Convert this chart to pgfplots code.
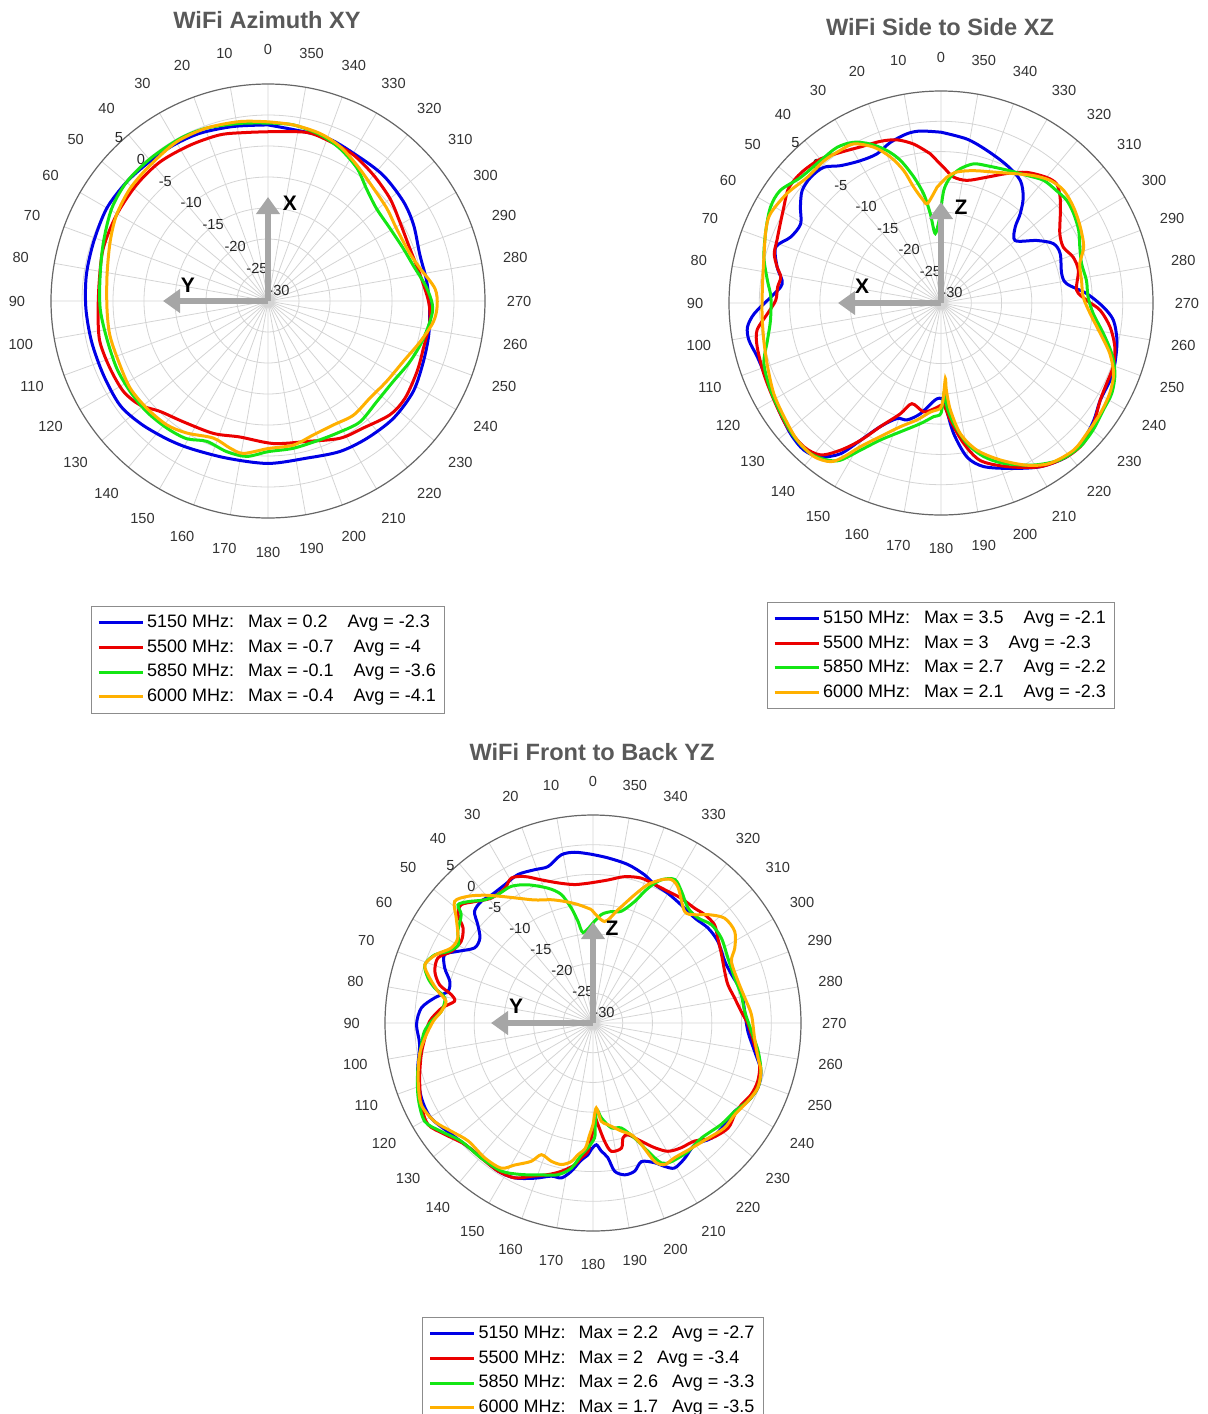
\documentclass[border=0pt]{standalone}
\usepackage{fontspec}
\setmainfont{Liberation Sans}
\usepackage{pgfplots}
\pgfplotsset{compat=1.18}
\usepackage{pgfplotstable}
\usepgfplotslibrary{polar}
\usetikzlibrary{arrows.meta}

\definecolor{c1}{RGB}{0,0,230}
\definecolor{c2}{RGB}{235,0,0}
\definecolor{c3}{RGB}{20,230,20}
\definecolor{c4}{RGB}{255,176,0}

% ---------------- Plot 1: Azimuth XY ----------------
\pgfplotstableread[row sep=\\]{a d\\
0 -1.6\\ 11.2 -1.3\\ 22.1 -0.8\\ 31.2 -0.6\\ 40.3 -0.5\\ 49.8 -0.2\\ 60.1 0.0\\ 71.2 -0.3\\ 81.8 -0.4\\ 92.3 -0.6\\ 103 -0.8\\ 114.2 -0.9\\ 125.1 -0.8\\ 134.1 -1.5\\ 143.6 -2.4\\ 152.1 -3.1\\ 165.3 -3.8\\ 180 -3.8\\ 193.8 -3.9\\ 205.5 -3.1\\ 215.7 -2.7\\ 226.9 -2.3\\ 238.1 -2.4\\ 248.7 -3.1\\ 258 -3.5\\ 267.4 -3.9\\ 277 -4.2\\ 286.8 -4.4\\ 297.6 -3.5\\ 306.3 -2.9\\ 317.5 -2.5\\ 328.7 -2.5\\ 341.4 -2.0\\ 360 -1.6\\}\aB
\pgfplotstableread[row sep=\\]{a d\\
0 -2.7\\ 7.2 -2.6\\ 16.1 -2.1\\ 26.6 -1.9\\ 37.8 -1.6\\ 48.5 -1.7\\ 60.4 -1.9\\ 72.3 -2.1\\ 83.5 -2.6\\ 94.7 -2.5\\ 103.6 -2.1\\ 113.1 -2.3\\ 122.1 -2.5\\ 129.1 -3.4\\ 135.7 -5.1\\ 144.9 -6.2\\ 157.6 -6.9\\ 168.3 -7.6\\ 182.1 -7.0\\ 195.4 -6.5\\ 207.7 -5.0\\ 216.8 -4.4\\ 227 -3.1\\ 234.6 -2.9\\ 244.6 -3.4\\ 253.1 -3.8\\ 262.7 -3.7\\ 269.8 -4.1\\ 279.7 -5.1\\ 290.4 -5.6\\ 301 -5.2\\ 310.1 -4.3\\ 320.1 -3.5\\ 329.7 -2.7\\ 338.7 -2.4\\ 347.1 -2.1\\ 360 -2.7\\}\aR
\pgfplotstableread[row sep=\\]{a d\\
0 -1.3\\ 9 -1.0\\ 19.6 -0.4\\ 28.4 -0.2\\ 39.6 -0.2\\ 49.8 -0.2\\ 59.3 -0.7\\ 70.2 -1.8\\ 81.2 -2.6\\ 92.5 -2.9\\ 103 -3.3\\ 114 -3.3\\ 123.3 -3.4\\ 132.4 -3.5\\ 141.5 -3.8\\ 149.4 -4.2\\ 156.4 -5.3\\ 164.7 -4.8\\ 172.2 -4.7\\ 180 -5.7\\ 189.8 -5.9\\ 200.5 -6.1\\ 208.9 -5.9\\ 217.3 -5.5\\ 227.2 -6.1\\ 237.2 -6.0\\ 246.9 -5.1\\ 256.5 -4.2\\ 266.9 -3.4\\ 274.6 -4.3\\ 283.9 -5.9\\ 291.3 -6.6\\ 300.8 -7.1\\ 310.5 -7.0\\ 318.8 -5.9\\ 326.2 -4.2\\ 334.8 -2.8\\ 342.6 -1.9\\ 351.8 -1.3\\ 360 -1.3\\}\aG
\pgfplotstableread[row sep=\\]{a d\\
0 -1.1\\ 8.9 -0.7\\ 19.6 -0.4\\ 29.8 -0.4\\ 40.9 -1.0\\ 50.8 -1.3\\ 60.4 -1.9\\ 69.4 -2.8\\ 80.8 -3.7\\ 92.6 -4.0\\ 102.1 -3.9\\ 112.1 -4.0\\ 122.3 -3.7\\ 131.5 -3.9\\ 140.7 -4.2\\ 148.4 -5.0\\ 158.3 -6.2\\ 165.5 -5.5\\ 170.8 -5.1\\ 180 -6.2\\ 190 -6.4\\ 198.7 -7.2\\ 207.8 -7.4\\ 216.8 -7.0\\ 226.3 -7.3\\ 235.8 -6.9\\ 245.9 -6.1\\ 255 -4.6\\ 262.9 -3.1\\ 268.6 -2.7\\ 274.3 -3.0\\ 282.1 -4.9\\ 288.8 -5.9\\ 299.5 -6.2\\ 307.9 -5.7\\ 316.9 -5.1\\ 326.9 -3.8\\ 335 -2.5\\ 342.8 -1.7\\ 351.8 -1.3\\ 360 -1.1\\}\aY

% ---------------- Plot 2: Side to Side XZ ----------------
\pgfplotstableread[row sep=\\]{a d\\
0 -1.8\\ 6.9 -1.4\\ 11.4 -1.5\\ 17.5 -2.2\\ 23.2 -3.2\\ 29.5 -3.0\\ 36.2 -1.9\\ 40.8 -0.4\\ 46 -0.1\\ 51 -0.5\\ 55.7 -1.9\\ 60.6 -3.4\\ 66.3 -2.9\\ 71.3 -1.2\\ 77.6 -2.3\\ 81.9 -3.5\\ 84.3 -3.4\\ 88 -1.9\\ 93.3 0.9\\ 97.1 2.2\\ 101 2.3\\ 106.4 1.6\\ 114 1.4\\ 122.4 2.0\\ 130.9 2.9\\ 137 3.2\\ 141.9 2.3\\ 146.3 -0.1\\ 149.6 -3.7\\ 153.9 -7.3\\ 159.2 -9.6\\ 163.8 -9.9\\ 169.4 -11.4\\ 176.7 -14.0\\ 180.6 -14.2\\ 182.4 -13.1\\ 185.5 -8.4\\ 189.6 -4.2\\ 194.6 -2.1\\ 202.7 -0.4\\ 211.2 1.6\\ 219.3 2.8\\ 226.1 2.6\\ 232.5 1.8\\ 238.6 0.8\\ 245.5 0.7\\ 250.8 0.4\\ 258 -0.3\\ 264.3 -1.4\\ 268.6 -3.2\\ 273.7 -5.9\\ 278.7 -9.0\\ 283.6 -9.5\\ 292.5 -8.7\\ 297.8 -9.0\\ 303.1 -11.1\\ 310.1 -14.0\\ 315.6 -12.5\\ 318.4 -10.3\\ 322.1 -7.9\\ 327.1 -5.9\\ 334.4 -4.8\\ 343.2 -3.7\\ 351 -2.6\\ 360 -1.8\\}\bB
\pgfplotstableread[row sep=\\]{a d\\
4.1 -5.3\\ 9.7 -3.4\\ 15.1 -2.1\\ 20.5 -1.5\\ 27.3 -1.0\\ 33.7 -0.1\\ 39.9 1.0\\ 46 1.5\\ 50.2 1.6\\ 53.8 1.4\\ 58.6 0.4\\ 63.7 -0.4\\ 69.1 -1.0\\ 73.6 -1.3\\ 77.6 -2.3\\ 80.8 -3.2\\ 84.4 -2.9\\ 89.1 -2.7\\ 93.5 -1.3\\ 98.4 0.7\\ 103.4 1.2\\ 111.7 1.5\\ 120.2 1.9\\ 128.8 2.6\\ 136.4 2.8\\ 141.6 2.0\\ 145.7 -0.6\\ 149.6 -3.7\\ 153.9 -7.3\\ 159.8 -10.5\\ 163.9 -12.7\\ 171 -11.8\\ 176.9 -12.6\\ 181.5 -13.1\\ 184.5 -10.6\\ 189.2 -6.5\\ 194 -3.2\\ 201.9 -0.9\\ 211.2 1.6\\ 219.3 2.8\\ 225.4 3.0\\ 231.7 2.1\\ 238.6 0.8\\ 244.1 0.4\\ 249.7 0.3\\ 255.8 -0.4\\ 261.9 -1.8\\ 267.4 -3.7\\ 271 -5.9\\ 275.3 -7.5\\ 283.3 -6.7\\ 289.1 -6.9\\ 294.5 -7.8\\ 300.2 -7.3\\ 306.8 -5.4\\ 311.6 -3.7\\ 315.8 -2.6\\ 319.9 -2.9\\ 326.7 -4.2\\ 333 -6.0\\ 340 -7.9\\ 348 -9.3\\ 354.3 -9.1\\ 358.9 -7.6\\ 364.1 -5.3\\}\bR
\pgfplotstableread[row sep=\\]{a d\\
0.4 -15.3\\ 4.7 -18.5\\ 6.8 -15.2\\ 9 -11.8\\ 12.2 -8.7\\ 15.9 -5.5\\ 19.5 -3.3\\ 23.9 -1.3\\ 28.5 0.2\\ 33.7 0.9\\ 40.2 0.8\\ 48.2 1.1\\ 55 2.4\\ 60.6 2.3\\ 67.5 1.3\\ 75.5 0.2\\ 82.6 -1.1\\ 88 -1.9\\ 95.8 -1.7\\ 102.1 -0.7\\ 108.9 0.9\\ 117.1 1.6\\ 124.6 2.1\\ 132.3 2.8\\ 139.1 2.9\\ 144.1 2.0\\ 147.4 0.8\\ 151.3 -2.3\\ 156.2 -5.3\\ 162.5 -7.7\\ 170.3 -9.8\\ 176.3 -11.2\\ 180 -11.8\\ 182.1 -15.3\\ 183.3 -12.8\\ 186 -10.0\\ 190.5 -6.4\\ 195.5 -3.7\\ 201.3 -1.6\\ 209.7 0.8\\ 217.2 2.5\\ 224.1 3.0\\ 230.2 2.7\\ 236.6 2.1\\ 242.1 1.9\\ 247.9 1.0\\ 253.5 -0.6\\ 259.3 -2.7\\ 266 -4.8\\ 272.3 -5.7\\ 278.8 -5.7\\ 285.6 -5.9\\ 291.9 -5.3\\ 297.8 -4.3\\ 303.9 -3.6\\ 309.2 -3.2\\ 314.2 -3.4\\ 320.1 -3.6\\ 326 -4.6\\ 333.6 -5.5\\ 341.5 -6.1\\ 346.8 -6.4\\ 351.8 -7.6\\ 355.8 -9.2\\ 358.6 -11.4\\ 360.4 -15.3\\}\bG
\pgfplotstableread[row sep=\\]{a d\\
2 -10.9\\ 7.6 -13.4\\ 9.6 -12.9\\ 13.3 -10.3\\ 15.7 -7.3\\ 19.1 -4.5\\ 23.3 -2.0\\ 28.7 -0.05\\ 33.4 0.2\\ 39.4 0.4\\ 46.8 0.3\\ 54.6 1.2\\ 62.4 1.8\\ 67.5 1.3\\ 75.5 0.2\\ 84.9 -0.4\\ 93.4 -0.4\\ 101.9 -0.1\\ 110.2 0.5\\ 118.4 1.4\\ 125.9 2.0\\ 133.6 2.8\\ 140.4 2.9\\ 145.2 1.9\\ 147.7 0.05\\ 150.7 -2.8\\ 155.6 -5.8\\ 161.8 -8.5\\ 168.4 -10.3\\ 174.4 -11.9\\ 179.6 -12.6\\ 181.2 -14.0\\ 183.3 -17.5\\ 183.5 -15.6\\ 185 -12.3\\ 188.4 -8.2\\ 193.7 -5.0\\ 200.7 -2.3\\ 207.9 0.3\\ 214.2 2.0\\ 222 2.7\\ 228.2 2.3\\ 235.2 2.0\\ 241.8 1.6\\ 247.7 0.8\\ 253.3 -0.9\\ 259.1 -3.2\\ 265.9 -5.3\\ 272.4 -6.5\\ 279.1 -6.5\\ 285.8 -6.2\\ 291.4 -4.7\\ 298.6 -3.8\\ 305.9 -3.0\\ 312.6 -2.5\\ 318.3 -2.9\\ 324 -4.0\\ 330.7 -5.5\\ 338.1 -6.7\\ 346.2 -7.5\\ 353 -8.2\\ 357.3 -9.2\\ 362 -10.9\\}\bY

% ---------------- Plot 3: Front to Back YZ ----------------
\pgfplotstableread[row sep=\\]{a d\\
0.6 -1.6\\ 6.1 -1.1\\ 10.7 -1.2\\ 16 -2.6\\ 20.8 -2.4\\ 26.8 -2.0\\ 32.6 -2.4\\ 38.4 -2.5\\ 42.5 -2.2\\ 46.7 -2.6\\ 49.5 -4.5\\ 53.1 -6.2\\ 57.6 -6.4\\ 62 -4.3\\ 65.3 -2.5\\ 69.7 -3.4\\ 73.8 -4.9\\ 77.7 -5.0\\ 81 -3.0\\ 85 -1.0\\ 90.5 -0.3\\ 97.1 -0.6\\ 105.4 0.6\\ 113.6 1.5\\ 120.4 1.6\\ 128.2 0.3\\ 133.5 -0.3\\ 138.9 -0.6\\ 147.4 -0.4\\ 153.2 -0.8\\ 159.4 -2.1\\ 164.8 -3.3\\ 168.5 -3.4\\ 171.7 -4.8\\ 174.8 -6.7\\ 177.8 -7.8\\ 179.2 -8.7\\ 181.6 -9.5\\ 183.7 -8.4\\ 186.3 -7.2\\ 188.3 -4.8\\ 191.8 -3.9\\ 195.7 -4.1\\ 199.3 -5.3\\ 203.8 -4.3\\ 206.6 -3.0\\ 209.4 -2.0\\ 214.2 -2.5\\ 219.9 -3.3\\ 225.8 -2.2\\ 232.3 -2.0\\ 238.1 -1.9\\ 243.2 -0.8\\ 248.5 -0.2\\ 254 -0.6\\ 260.1 -2.4\\ 266.9 -3.9\\ 274.4 -4.4\\ 282 -4.5\\ 289.3 -5.3\\ 295.1 -5.5\\ 303.2 -4.9\\ 309.6 -4.9\\ 315.9 -5.4\\ 323.3 -5.2\\ 330 -4.8\\ 335.9 -4.5\\ 340.8 -3.6\\ 347.5 -2.7\\ 354.8 -2.1\\ 360.6 -1.6\\}\cB
\pgfplotstableread[row sep=\\]{a d\\
0.7 -6.4\\ 7.5 -6.5\\ 14 -5.7\\ 19.8 -4.4\\ 25 -2.8\\ 29.4 -2.0\\ 33.2 -2.9\\ 39.1 -2.9\\ 44.2 -1.5\\ 48.1 -0.2\\ 51.3 -0.9\\ 53.8 -2.9\\ 58.2 -3.9\\ 63.2 -3.3\\ 67.2 -1.7\\ 71.9 -2.0\\ 76 -3.4\\ 78.7 -5.7\\ 81.1 -6.4\\ 84.4 -4.4\\ 89.4 -2.5\\ 95.1 -1.6\\ 100.5 -0.6\\ 107.6 0.6\\ 115.4 2.0\\ 121.6 2.6\\ 126.9 1.2\\ 133.5 -0.3\\ 140.4 -0.5\\ 147.4 -0.4\\ 153.2 -0.8\\ 158.1 -2.2\\ 163.5 -3.4\\ 168 -4.5\\ 172.6 -5.9\\ 174.9 -7.2\\ 177.8 -8.4\\ 179.2 -10.7\\ 180.6 -12.6\\ 181.4 -14.0\\ 182.8 -12.9\\ 185.6 -10.0\\ 188.1 -8.2\\ 192.8 -8.4\\ 194.6 -10.0\\ 197.4 -10.3\\ 202.2 -8.5\\ 206.3 -6.6\\ 210.3 -5.0\\ 215.2 -4.3\\ 220.7 -3.8\\ 225.8 -2.2\\ 232.1 -1.2\\ 237.1 -1.6\\ 241.2 -1.5\\ 245.6 -0.8\\ 250.5 -0.6\\ 256 -1.1\\ 262.4 -2.6\\ 269.4 -3.9\\ 274.5 -5.0\\ 280 -5.8\\ 285.9 -6.4\\ 291.4 -6.2\\ 298 -5.5\\ 304.2 -4.6\\ 309 -3.7\\ 314.1 -3.8\\ 318.5 -4.2\\ 324.8 -4.3\\ 330.3 -4.5\\ 335.9 -4.5\\ 341.6 -4.3\\ 347.8 -4.8\\ 354 -5.8\\ 360.7 -6.4\\}\cR
\pgfplotstableread[row sep=\\]{a d\\
1 -13.5\\ 6.3 -14.7\\ 8.4 -12.7\\ 10.7 -10.3\\ 13.9 -7.7\\ 18.4 -6.1\\ 25.2 -4.3\\ 30.9 -3.2\\ 36.5 -3.1\\ 41.3 -2.4\\ 45.8 -0.7\\ 48.8 0.2\\ 50.6 -1.3\\ 55.8 -2.5\\ 59.9 -3.8\\ 63.7 -2.8\\ 66.7 -1.0\\ 70.9 -0.05\\ 74.7 -1.2\\ 77.5 -2.7\\ 80.4 -4.7\\ 85.6 -4.4\\ 89.4 -2.8\\ 92.8 -1.6\\ 97.2 -0.9\\ 105.4 0.6\\ 113.2 2.0\\ 120.3 2.8\\ 125.5 1.4\\ 131.9 -0.2\\ 140.4 -0.5\\ 148.3 -0.7\\ 154.7 -1.8\\ 161.2 -3.0\\ 167 -3.8\\ 171.5 -5.3\\ 174.9 -7.7\\ 177.7 -9.0\\ 180.8 -10.7\\ 181.3 -12.9\\ 182.6 -15.4\\ 185 -14.0\\ 189.9 -12.1\\ 195.1 -11.7\\ 199.9 -9.4\\ 203.2 -6.5\\ 206 -3.8\\ 209.5 -3.2\\ 216.5 -3.1\\ 223.3 -3.4\\ 231.6 -2.5\\ 238.1 -1.9\\ 243.2 -0.8\\ 248.5 -0.2\\ 254 -0.6\\ 260.3 -1.8\\ 267 -3.3\\ 274.4 -4.4\\ 280.8 -4.6\\ 287.6 -5.0\\ 295.7 -4.8\\ 303.5 -4.1\\ 309.7 -4.1\\ 315 -5.0\\ 320.4 -4.9\\ 326.1 -3.3\\ 330.3 -2.2\\ 334.5 -3.3\\ 337.8 -5.5\\ 341.1 -8.4\\ 345.8 -10.6\\ 350.7 -11.0\\ 355.6 -11.7\\ 361 -13.5\\}\cG
\pgfplotstableread[row sep=\\]{a d\\
0.8 -10.9\\ 7.2 -9.9\\ 13.1 -9.0\\ 18.7 -8.1\\ 25.3 -7.1\\ 31 -5.5\\ 35.9 -3.7\\ 40.3 -1.8\\ 44.6 -0.05\\ 48.7 1.0\\ 52.5 -1.0\\ 57.8 -3.1\\ 62.1 -3.0\\ 66.4 -1.2\\ 70.9 -0.05\\ 74.6 -1.5\\ 78.5 -3.4\\ 81.6 -5.0\\ 85.6 -4.4\\ 89.4 -3.1\\ 95.1 -1.6\\ 100.4 -0.3\\ 108.4 1.0\\ 115.4 2.0\\ 121.8 1.4\\ 127.4 0.0\\ 133.4 -1.1\\ 141.3 -0.9\\ 147.7 -1.1\\ 151.1 -2.7\\ 155.9 -4.5\\ 158.6 -6.2\\ 163.2 -5.7\\ 167.4 -5.6\\ 171.1 -6.4\\ 173.5 -7.7\\ 176.5 -8.9\\ 178.3 -11.2\\ 180 -12.9\\ 182.2 -15.7\\ 184.8 -13.4\\ 188.4 -12.7\\ 194.7 -11.2\\ 199 -10.1\\ 201.7 -8.0\\ 204 -4.5\\ 206.8 -3.3\\ 211.2 -3.5\\ 218.2 -3.2\\ 225 -2.6\\ 231.4 -1.7\\ 237.1 -1.6\\ 243.2 -0.8\\ 248.5 -0.2\\ 254 -0.6\\ 258 -1.6\\ 264.7 -2.7\\ 273 -3.3\\ 279.4 -4.1\\ 286 -4.6\\ 294 -4.5\\ 297.9 -3.0\\ 302.9 -1.6\\ 308.6 -1.7\\ 313.3 -3.4\\ 316.8 -5.0\\ 320.6 -5.7\\ 327.8 -3.1\\ 331.3 -2.5\\ 334.5 -3.3\\ 338.3 -4.9\\ 342 -7.3\\ 347.6 -10.5\\ 353.5 -12.8\\ 360.8 -10.9\\}\cY

\tikzset{
  angl/.style={font=\fontsize{7.3}{8.5}\selectfont, text=black!80, inner sep=0pt},
  ringl/.style={font=\fontsize{7.3}{8.5}\selectfont, text=black!85, inner sep=0pt, anchor=base west, yshift=2.7pt},
  axarrow/.style={draw=black!35, line width=3pt, -{Triangle[length=8.5pt,width=11.5pt]}},
  axlab/.style={font=\fontsize{10.5}{12}\selectfont\bfseries, text=black},
  ttl/.style={font=\fontsize{11.8}{14}\selectfont\bfseries, text=black!65},
}

\pgfplotsset{
  myp/.style={
    scale only axis, xmin=0, xmax=360, ymin=0, ymax=35,
    xtick={0,10,...,350}, xticklabels={}, ytick={5,10,...,30}, yticklabels={},
    grid=major, major grid style={draw=black!17, line width=0.4pt},
    separate axis lines,
    x axis line style={draw=black!60, line width=0.6pt},
    y axis line style={draw=none},
    major tick length=0pt,
    clip=false,
    legend style={anchor=north, draw=black!45, line width=0.5pt,
      font=\fontsize{9}{11}\selectfont, inner xsep=3pt, inner ysep=2pt,
      row sep=0pt, nodes={inner sep=1.5pt, text height=7pt, text depth=2.3pt}},
    legend cell align=left,
    legend image code/.code={\draw[##1, line width=1.5pt] (0pt,0pt) -- (22pt,0pt);},
  }
}

\newcommand\pplot[2]{\addplot[#1, line width=1.5pt, smooth, tension=0.5] table[x expr=\thisrow{a}+90, y expr=\thisrow{d}+30]{#2};}

\newcommand\anglab[1]{%
  \pgfplotsinvokeforeach{0,10,20,30,40,50,60,70,80,90,100,110,120,130,140,150,160,170,180,190,200,210,220,230,240,250,260,270,280,290,300,310,320,330,340,350}{%
    \pgfmathsetmacro\pa{##1+90}%
    \edef\tmp{\noexpand\node[angl] at (axis cs:\pa,#1) {##1};}\tmp}}

\newcommand\ringlab{%
  \node[ringl] at (axis cs:135,35) {5};
  \node[ringl] at (axis cs:135,30) {0};
  \node[ringl] at (axis cs:135,25) {-5};
  \node[ringl] at (axis cs:135,20) {-10};
  \node[ringl] at (axis cs:135,15) {-15};
  \node[ringl] at (axis cs:135,10) {-20};
  \node[ringl] at (axis cs:135,5) {-25};
  \node[ringl] at (axis cs:135,0) {-30};}

\begin{document}
\begin{tikzpicture}
\useasboundingbox (0,0) rectangle (603.5pt,-707pt);

% Plot 1
\begin{polaraxis}[myp, width=217pt, height=217pt, at={(134pt,-150.5pt)}, anchor=center,
  legend style={at={(0.5,-0.203)}}]
\ringlab
\pplot{c1}{\aB}\addlegendentry{5150 MHz:\hspace{7pt}Max = 0.2\hspace{10pt}Avg = -2.3}
\pplot{c2}{\aR}\addlegendentry{5500 MHz:\hspace{7pt}Max = -0.7\hspace{10pt}Avg = -4}
\pplot{c3}{\aG}\addlegendentry{5850 MHz:\hspace{7pt}Max = -0.1\hspace{10pt}Avg = -3.6}
\pplot{c4}{\aY}\addlegendentry{6000 MHz:\hspace{7pt}Max = -0.4\hspace{10pt}Avg = -4.1}
\anglab{40.5}
\end{polaraxis}

% Plot 2
\begin{polaraxis}[myp, width=212pt, height=212pt, at={(470.5pt,-151.5pt)}, anchor=center,
  legend style={at={(0.5,-0.205)}}]
\ringlab
\pplot{c1}{\bB}\addlegendentry{5150 MHz:\hspace{7pt}Max = 3.5\hspace{10pt}Avg = -2.1}
\pplot{c2}{\bR}\addlegendentry{5500 MHz:\hspace{7pt}Max = 3\hspace{10pt}Avg = -2.3}
\pplot{c3}{\bG}\addlegendentry{5850 MHz:\hspace{7pt}Max = 2.7\hspace{10pt}Avg = -2.2}
\pplot{c4}{\bY}\addlegendentry{6000 MHz:\hspace{7pt}Max = 2.1\hspace{10pt}Avg = -2.3}
\anglab{40.6}
\end{polaraxis}

% Plot 3
\begin{polaraxis}[myp, width=208pt, height=208pt, at={(296.5pt,-511.5pt)}, anchor=center,
  legend style={at={(0.5,-0.207)}}]
\ringlab
\pplot{c1}{\cB}\addlegendentry{5150 MHz:\hspace{6.5pt}Max = 2.2\hspace{7pt}Avg = -2.7}
\pplot{c2}{\cR}\addlegendentry{5500 MHz:\hspace{6.5pt}Max = 2\hspace{7pt}Avg = -3.4}
\pplot{c3}{\cG}\addlegendentry{5850 MHz:\hspace{6.5pt}Max = 2.6\hspace{7pt}Avg = -3.3}
\pplot{c4}{\cY}\addlegendentry{6000 MHz:\hspace{6.5pt}Max = 1.7\hspace{7pt}Avg = -3.5}
\anglab{40.6}
\end{polaraxis}

% titles
\node[ttl] at (133.5pt,-10pt) {WiFi Azimuth XY};
\node[ttl] at (470pt,-13.5pt) {WiFi Side to Side XZ};
\node[ttl] at (296pt,-376pt) {WiFi Front to Back YZ};

% coordinate arrows
\draw[axarrow] (134pt,-150.5pt) -- ++(0pt,52pt);
\draw[axarrow] (134pt,-150.5pt) -- ++(-52.5pt,0pt);
\node[axlab] at (145pt,-101.5pt) {X};
\node[axlab] at (94pt,-142.5pt) {Y};

\draw[axarrow] (470.5pt,-151.5pt) -- ++(0pt,50.5pt);
\draw[axarrow] (470.5pt,-151.5pt) -- ++(-51.5pt,0pt);
\node[axlab] at (480.5pt,-103.5pt) {Z};
\node[axlab] at (431pt,-143pt) {X};

\draw[axarrow] (296.5pt,-511.5pt) -- ++(0pt,50.5pt);
\draw[axarrow] (296.5pt,-511.5pt) -- ++(-51pt,0pt);
\node[axlab] at (306pt,-464pt) {Z};
\node[axlab] at (258pt,-503pt) {Y};
\end{tikzpicture}
\end{document}
